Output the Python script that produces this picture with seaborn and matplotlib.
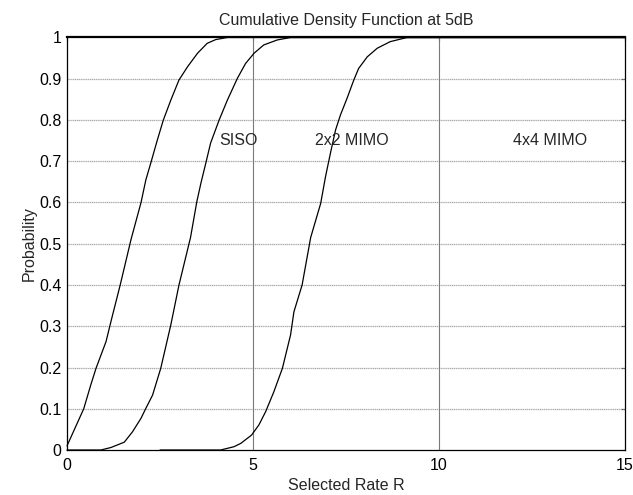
import matplotlib
matplotlib.use('Agg')
import matplotlib.pyplot as plt
import seaborn as sns
import pandas as pd

# CDF curves (x = selected rate, y = probability)
siso_x = [0, 0.2, 0.45, 0.64, 0.78, 1.05, 1.18, 1.43, 1.72, 1.99, 2.12, 2.25,
          2.43, 2.59, 2.79, 3.01, 3.24, 3.51, 3.77, 4.0, 4.31, 15]
siso_y = [0.01, 0.05, 0.10, 0.158, 0.198, 0.263, 0.311, 0.40, 0.51, 0.60, 0.655, 0.695,
          0.752, 0.80, 0.848, 0.897, 0.929, 0.962, 0.986, 0.995, 1.0, 1.0]

mimo2_x = [0, 0.91, 1.18, 1.54, 1.76, 1.99, 2.12, 2.30, 2.52, 2.79, 3.01, 3.32,
           3.49, 3.60, 3.73, 3.86, 4.09, 4.31, 4.58, 4.80, 5.03, 5.29, 5.65, 6.01, 15]
mimo2_y = [0, 0, 0.006, 0.019, 0.044, 0.077, 0.101, 0.133, 0.198, 0.303, 0.40, 0.515,
           0.602, 0.647, 0.695, 0.744, 0.80, 0.848, 0.901, 0.937, 0.962, 0.982, 0.994, 1.0, 1.0]

mimo4_x = [2.5, 4.13, 4.49, 4.67, 4.96, 5.16, 5.34, 5.56, 5.79, 6.01, 6.10, 6.32,
           6.55, 6.82, 6.95, 7.08, 7.22, 7.35, 7.53, 7.71, 7.84, 8.07, 8.34, 8.69, 9.14, 15]
mimo4_y = [0, 0, 0.008, 0.016, 0.036, 0.061, 0.093, 0.141, 0.198, 0.279, 0.335, 0.40,
           0.515, 0.598, 0.663, 0.719, 0.776, 0.812, 0.853, 0.897, 0.925, 0.953, 0.974, 0.99, 1.0, 1.0]

labels = ['SISO', '2x2 MIMO', '4x4 MIMO']
label_x = [4.1, 6.68, 12.0]
label_y = 0.75

sns.set_style('white')
plt.rcParams['font.family'] = ['Liberation Sans', 'DejaVu Sans']
fs = 11.5

fig = plt.figure(figsize=(6.33, 4.95), dpi=100)
ax = fig.add_axes([67 / 633, 45 / 495, 558 / 633, 412.5 / 495])

# grid: light dotted horizontals, darker verticals
for yv in [i / 10 for i in range(1, 10)]:
    ax.axhline(yv, color='#a8a8a8', lw=0.9, ls=(0, (1, 0.5)), zorder=1)
for xv in [5, 10]:
    ax.axvline(xv, color='#7a7a7a', lw=0.8, zorder=1)

for xs, ys in [(siso_x, siso_y), (mimo2_x, mimo2_y), (mimo4_x, mimo4_y)]:
    df = pd.DataFrame({'R': xs, 'P': ys})
    sns.lineplot(data=df, x='R', y='P', ax=ax, color='black', lw=0.9,
                 estimator=None, sort=False, zorder=3, clip_on=False)

for t, xv in zip(labels, label_x):
    ax.text(xv, label_y, t, fontsize=fs, ha='left', va='center')

ax.set_xlim(0, 15)
ax.set_ylim(0, 1)
ax.set_xticks([0, 5, 10, 15])
ax.set_yticks([i / 10 for i in range(11)])
ax.set_yticklabels(['0', '0.1', '0.2', '0.3', '0.4', '0.5', '0.6', '0.7', '0.8', '0.9', '1'])
ax.tick_params(direction='in', length=3, width=0.8, top=True, right=True,
               labelsize=fs, colors='black', pad=4)
ax.tick_params(axis='x', pad=6)
for s in ax.spines.values():
    s.set_color('black')
    s.set_linewidth(0.9)
    s.set_visible(True)
ax.spines['top'].set_linewidth(1.6)

ax.set_xlabel('Selected Rate R', fontsize=fs, labelpad=3)
ax.set_ylabel('Probability', fontsize=fs, labelpad=2)
ax.set_title('Cumulative Density Function at 5dB', fontsize=fs, pad=9)

fig.savefig('out.png', dpi=100)
